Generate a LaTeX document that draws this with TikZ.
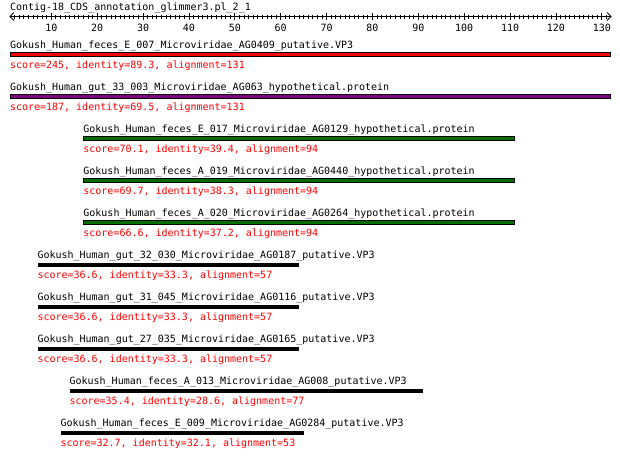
\documentclass[tikz,border=0pt]{standalone}
\usepackage{fontspec}
\setmonofont{DejaVu Sans Mono}
\definecolor{barred}{RGB}{255,0,0}
\definecolor{barpurple}{RGB}{128,0,128}
\definecolor{bargreen}{RGB}{0,110,0}
\definecolor{scorered}{RGB}{255,0,0}
\begin{document}
\begin{tikzpicture}[x=1pt,y=-1pt,
  txt/.style={inner sep=0pt,outer sep=0pt,anchor=base west,font=\ttfamily\fontsize{10}{12}\selectfont},
  hitlabel/.style={txt,text=black},
  scorelabel/.style={txt,text=scorered},
  ticklabel/.style={inner sep=0pt,anchor=base,font=\ttfamily\fontsize{10}{12}\selectfont},
  rulerline/.style={line width=1pt,black},
  outlinedbar/.style={draw=black,line width=1pt},
  plainbar/.style={fill=black}]
\useasboundingbox (0,0) rectangle (620,461);
\fill[white] (0,0) rectangle (620,461);
% title
\node[txt] (title) at (10,10.5) {Contig-18\_CDS\_annotation\_glimmer3.pl\_2\_1};
% ruler
\coordinate (rl) at (10,16.5);
\coordinate (rr) at (611,16.5);
\draw[line width=0.8pt] (rl) -- (rr);
\draw[line width=0.8pt] (14,12.5) -- (rl) -- (14,20.5);
\draw[line width=0.8pt] (607,12.5) -- (rr) -- (607,20.5);
\foreach \p in {2,...,131}{
  \pgfmathsetmacro{\xx}{10+(\p-1)*4.588}
  \draw[line width=0.8pt] (\xx,14.5) -- (\xx,18.5);
}
\foreach \p in {10,20,...,130}{
  \pgfmathsetmacro{\xx}{10+(\p-1)*4.588}
  \draw[line width=0.8pt] (\xx,13) -- (\xx,20);
  \node[ticklabel] (t\p) at (\xx,31) {\p};
}
% rows: start offset, length, bar top
% row 1
\node[hitlabel] (l1) at (10,48.5) {Gokush\_Human\_feces\_E\_007\_Microviridae\_AG0409\_putative.VP3};
\filldraw[outlinedbar,fill=barred] (10.5,52.5) rectangle (610.5,56.5);
\node[scorelabel] (s1) at (10,68) {score=245, identity=89.3, alignment=131};
% row 2
\node[hitlabel] (l2) at (10,90.5) {Gokush\_Human\_gut\_33\_003\_Microviridae\_AG063\_hypothetical.protein};
\filldraw[outlinedbar,fill=barpurple] (10.5,94.5) rectangle (610.5,98.5);
\node[scorelabel] (s2) at (10,110) {score=187, identity=69.5, alignment=131};
% row 3
\node[hitlabel] (l3) at (83.4,132.5) {Gokush\_Human\_feces\_E\_017\_Microviridae\_AG0129\_hypothetical.protein};
\filldraw[outlinedbar,fill=bargreen] (83.9,136.5) rectangle (514.2,140.5);
\node[scorelabel] (s3) at (83.4,152) {score=70.1, identity=39.4, alignment=94};
% row 4
\node[hitlabel] (l4) at (83.4,174.5) {Gokush\_Human\_feces\_A\_019\_Microviridae\_AG0440\_hypothetical.protein};
\filldraw[outlinedbar,fill=bargreen] (83.9,178.5) rectangle (514.2,182.5);
\node[scorelabel] (s4) at (83.4,194) {score=69.7, identity=38.3, alignment=94};
% row 5
\node[hitlabel] (l5) at (83.4,216.5) {Gokush\_Human\_feces\_A\_020\_Microviridae\_AG0264\_hypothetical.protein};
\filldraw[outlinedbar,fill=bargreen] (83.9,220.5) rectangle (514.2,224.5);
\node[scorelabel] (s5) at (83.4,236) {score=66.6, identity=37.2, alignment=94};
% row 6
\node[hitlabel] (l6) at (37.5,258.5) {Gokush\_Human\_gut\_32\_030\_Microviridae\_AG0187\_putative.VP3};
\fill[plainbar] (37.5,262.5) rectangle (299,267);
\node[scorelabel] (s6) at (37.5,278.5) {score=36.6, identity=33.3, alignment=57};
% row 7
\node[hitlabel] (l7) at (37.5,300.5) {Gokush\_Human\_gut\_31\_045\_Microviridae\_AG0116\_putative.VP3};
\fill[plainbar] (37.5,304.5) rectangle (299,309);
\node[scorelabel] (s7) at (37.5,320.5) {score=36.6, identity=33.3, alignment=57};
% row 8
\node[hitlabel] (l8) at (37.5,342.5) {Gokush\_Human\_gut\_27\_035\_Microviridae\_AG0165\_putative.VP3};
\fill[plainbar] (37.5,346.5) rectangle (299,351);
\node[scorelabel] (s8) at (37.5,362.5) {score=36.6, identity=33.3, alignment=57};
% row 9
\node[hitlabel] (l9) at (69.6,384.5) {Gokush\_Human\_feces\_A\_013\_Microviridae\_AG008\_putative.VP3};
\fill[plainbar] (69.6,388.5) rectangle (422.9,393);
\node[scorelabel] (s9) at (69.6,404.5) {score=35.4, identity=28.6, alignment=77};
% row 10
\node[hitlabel] (l10) at (60.5,426.5) {Gokush\_Human\_feces\_E\_009\_Microviridae\_AG0284\_putative.VP3};
\fill[plainbar] (60.5,430.5) rectangle (303.6,435);
\node[scorelabel] (s10) at (60.5,446.5) {score=32.7, identity=32.1, alignment=53};
\end{tikzpicture}
\end{document}
